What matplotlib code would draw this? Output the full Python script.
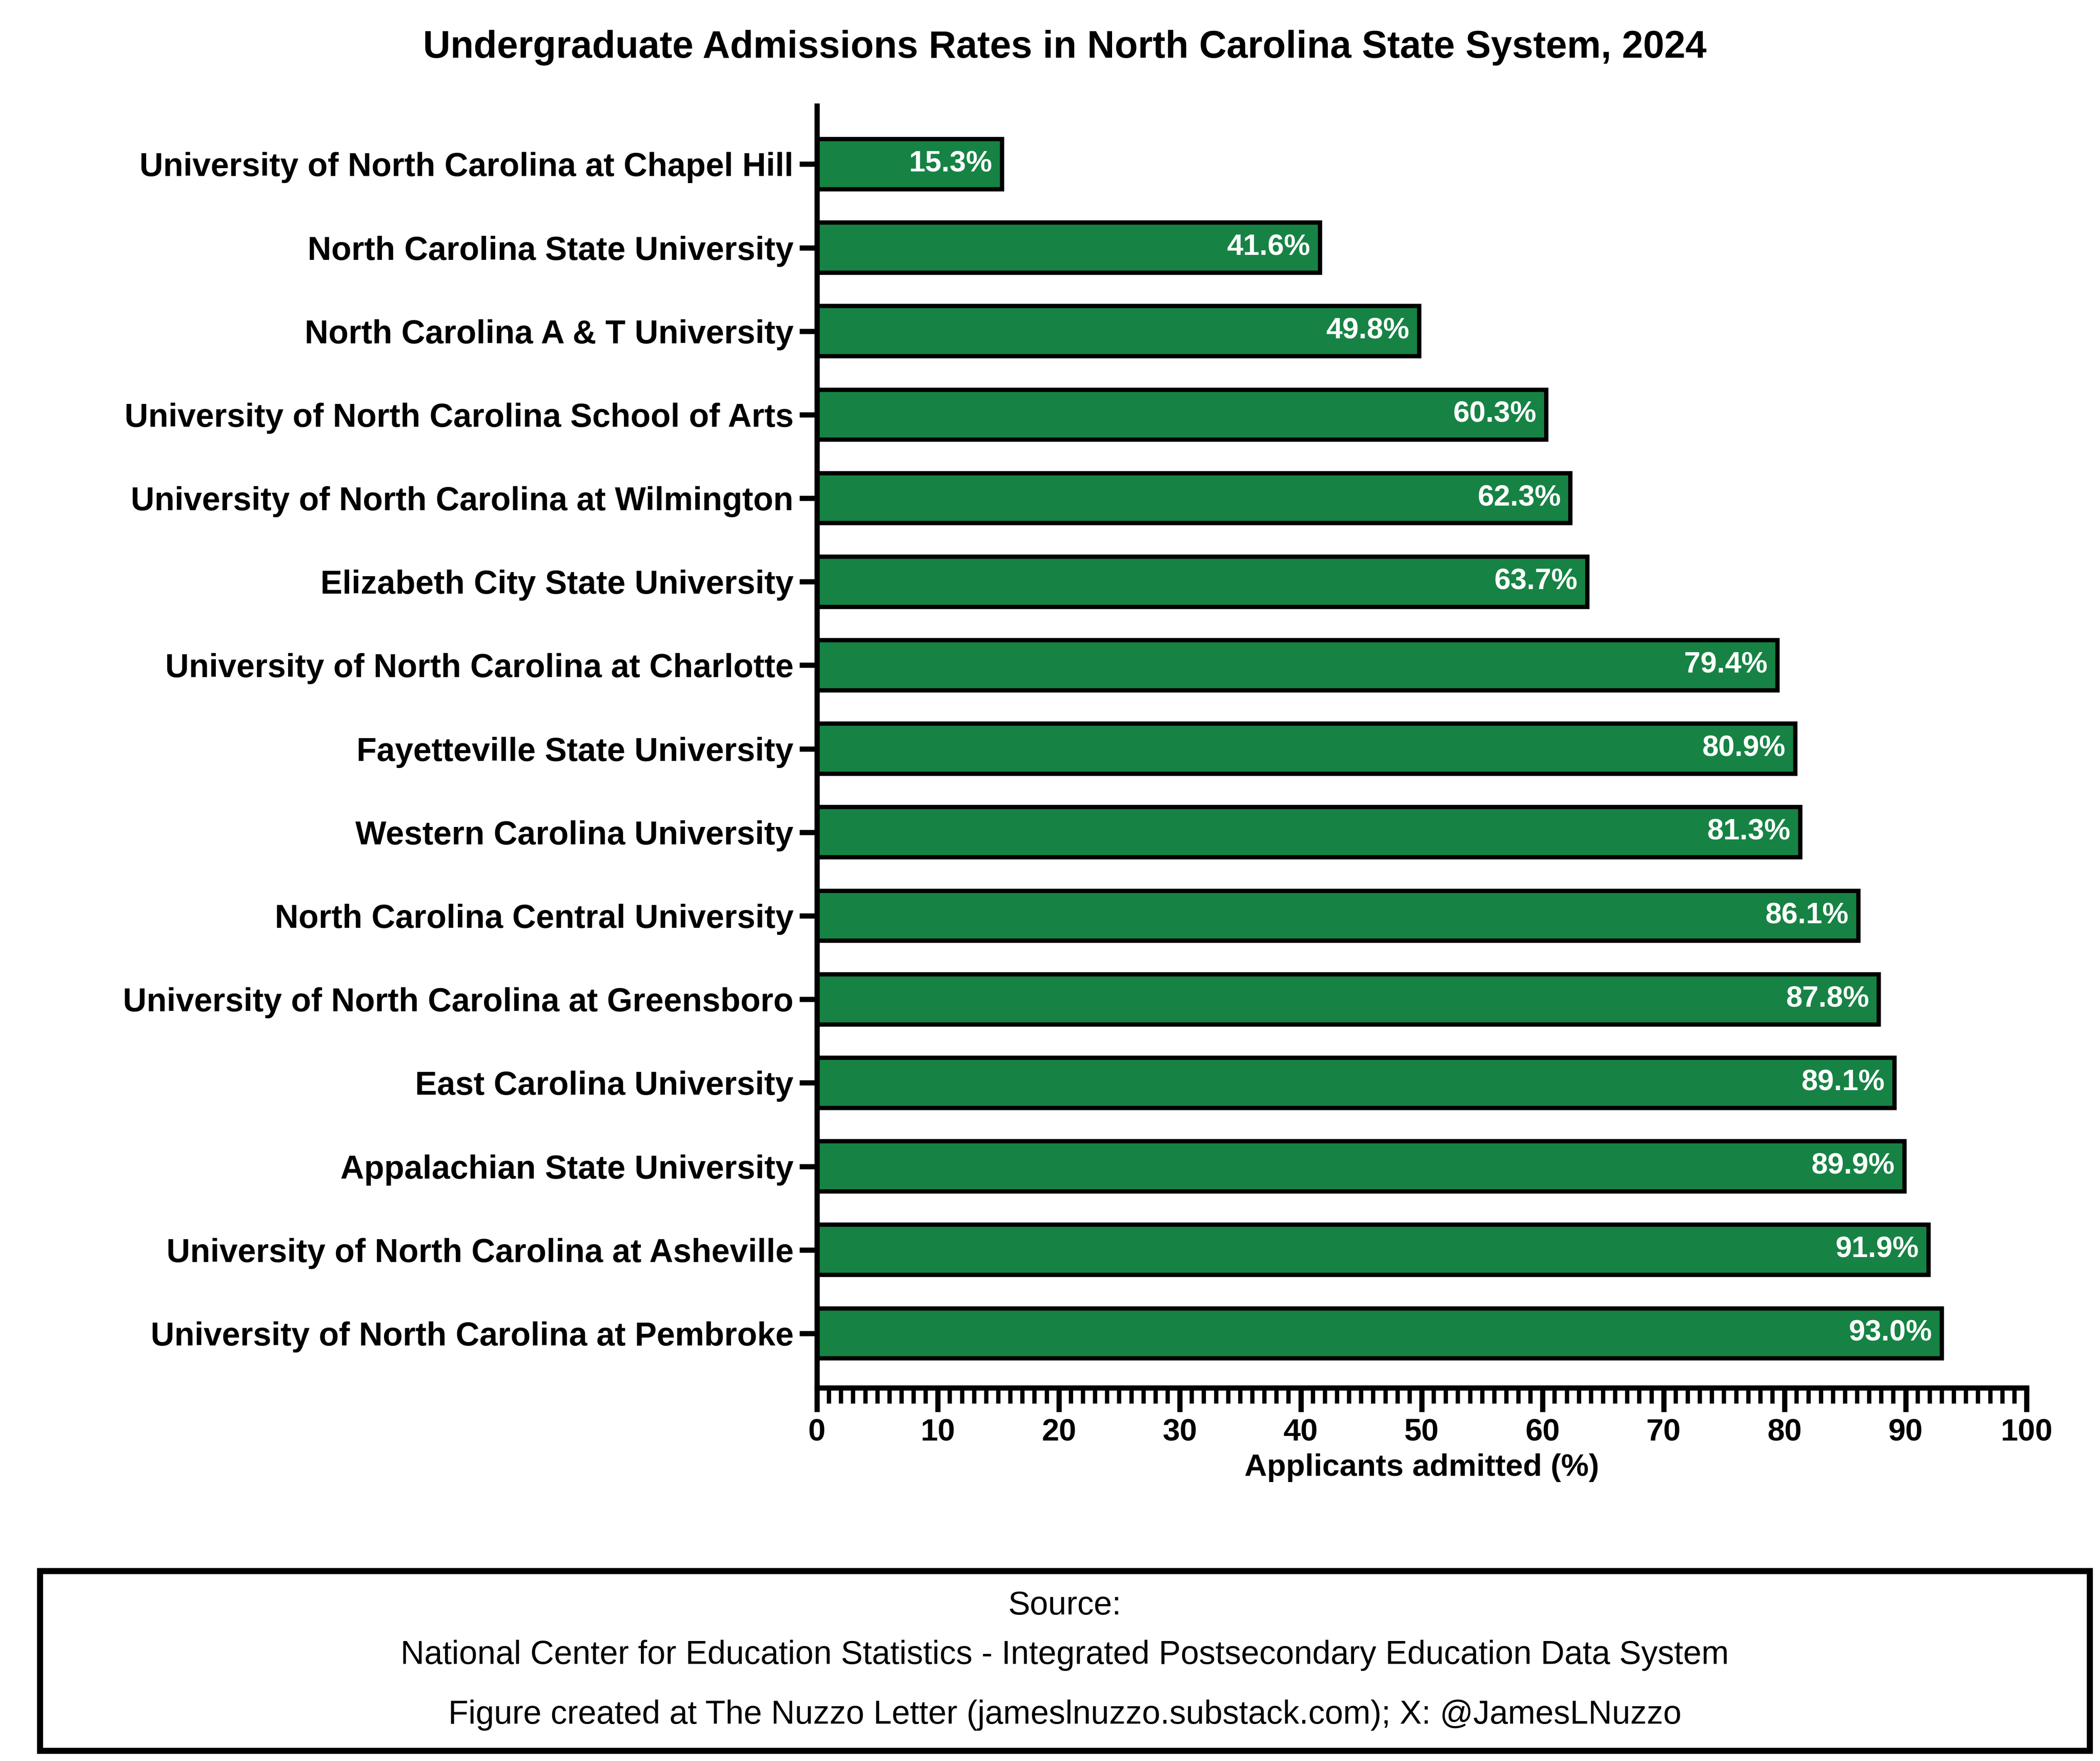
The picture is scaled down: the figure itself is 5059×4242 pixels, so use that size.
import matplotlib.pyplot as plt
import numpy as np
from matplotlib.ticker import MultipleLocator
from matplotlib.patches import Rectangle

plt.rcParams['font.family'] = ['Liberation Sans', 'DejaVu Sans']

schools = [
    'University of North Carolina at Chapel Hill',
    'North Carolina State University',
    'North Carolina A & T University',
    'University of North Carolina School of Arts',
    'University of North Carolina at Wilmington',
    'Elizabeth City State University',
    'University of North Carolina at Charlotte',
    'Fayetteville State University',
    'Western Carolina University',
    'North Carolina Central University',
    'University of North Carolina at Greensboro',
    'East Carolina University',
    'Appalachian State University',
    'University of North Carolina at Asheville',
    'University of North Carolina at Pembroke',
]
rates = [15.3, 41.6, 49.8, 60.3, 62.3, 63.7, 79.4, 80.9, 81.3, 86.1, 87.8, 89.1, 89.9, 91.9, 93.0]

fig = plt.figure(figsize=(5059/300, 4242/300), dpi=300)
ax = fig.add_axes([0.389, 0.212, 0.576, 0.728])

y = np.arange(len(schools))
ax.barh(y, rates, height=0.6, color='#168344', edgecolor='black', linewidth=2.5)
for yi, r in zip(y, rates):
    ax.text(r - 0.8, yi, f'{r:.1f}%', ha='right', va='center', color='white',
            fontsize=17, fontweight='bold')

ax.set_yticks(y)
ax.set_yticklabels(schools, fontsize=19, fontweight='bold')
ax.set_ylim(len(schools) - 0.35, -0.7)
ax.set_xlim(0, 100)
ax.xaxis.set_major_locator(MultipleLocator(10))
ax.xaxis.set_minor_locator(MultipleLocator(1))
ax.tick_params(axis='x', which='major', length=14, width=3, labelsize=18)
ax.tick_params(axis='x', which='minor', length=9, width=2.5)
ax.tick_params(axis='y', length=10, width=3)
for lab in ax.get_xticklabels():
    lab.set_fontweight('bold')
ax.set_xlabel('Applicants admitted (%)', fontsize=18, fontweight='bold', labelpad=4)
for s in ['top', 'right']:
    ax.spines[s].set_visible(False)
for s in ['left', 'bottom']:
    ax.spines[s].set_linewidth(3)

fig.text(0.507, 0.973, 'Undergraduate Admissions Rates in North Carolina State System, 2024',
         ha='center', va='center', fontsize=22, fontweight='bold')

fig.patches.append(Rectangle((0.019, 0.006), 0.976, 0.102, transform=fig.transFigure,
                             fill=False, edgecolor='black', linewidth=3.5))
fig.text(0.507, 0.088, 'Source:', ha='center', va='center', fontsize=19)
fig.text(0.507, 0.06, 'National Center for Education Statistics - Integrated Postsecondary Education Data System',
         ha='center', va='center', fontsize=19)
fig.text(0.507, 0.026, 'Figure created at The Nuzzo Letter (jameslnuzzo.substack.com); X: @JamesLNuzzo',
         ha='center', va='center', fontsize=19)

fig.savefig('out.png', dpi=300)
